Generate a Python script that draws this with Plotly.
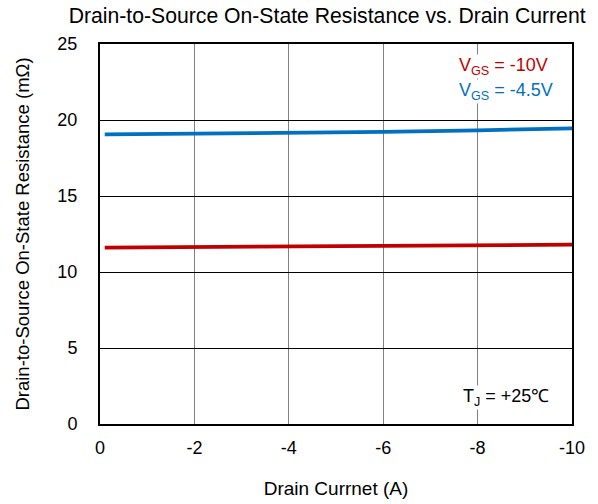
import plotly.graph_objects as go

current = [-0.1, -2, -4, -6, -8, -10]
rds_10v = [11.6, 11.63, 11.67, 11.71, 11.76, 11.8]
rds_45v = [19.05, 19.1, 19.15, 19.22, 19.32, 19.45]
x_ticks = [0, -2, -4, -6, -8, -10]
y_ticks = [0, 5, 10, 15, 20, 25]

RED = "#C00000"
BLUE = "#0070C0"
FONT = "Liberation Sans, Arial, sans-serif"

fig = go.Figure()
fig.add_trace(go.Scatter(x=current, y=rds_45v, mode="lines",
                         line=dict(color=BLUE, width=3.8), showlegend=False))
fig.add_trace(go.Scatter(x=current, y=rds_10v, mode="lines",
                         line=dict(color=RED, width=3.8), showlegend=False))

fig.update_layout(
    width=598, height=504,
    margin=dict(l=100, r=26, t=44, b=80),
    paper_bgcolor="white", plot_bgcolor="white",
    font=dict(family=FONT, size=18, color="black"),
    title=dict(text="Drain-to-Source On-State Resistance vs. Drain Current",
               x=0.547, xanchor="center", y=0.970, yanchor="middle",
               font=dict(size=21.2, family=FONT, color="black"), automargin=False),
    showlegend=False,
)
fig.update_xaxes(
    range=[0, -10], tickvals=x_ticks, ticktext=[str(v) for v in x_ticks],
    showgrid=True, gridcolor="#808080", gridwidth=1,
    showline=True, linecolor="black", linewidth=2, mirror=True,
    zeroline=False, ticks="", ticklen=0, ticklabelstandoff=6,
    tickfont=dict(size=18), automargin=False,
    title=dict(text="Drain Currnet (A)", font=dict(size=19), standoff=25),
)
fig.update_yaxes(
    range=[0, 25], tickvals=y_ticks,
    showgrid=True, gridcolor="black", gridwidth=1,
    showline=True, linecolor="black", linewidth=2, mirror=True,
    zeroline=False, ticks="", ticklen=0, ticklabelstandoff=17,
    tickfont=dict(size=18), automargin=False,
    title=dict(text="Drain-to-Source On-State Resistance (mΩ)", font=dict(size=18.5), standoff=23),
)

fig.add_annotation(xref="paper", yref="paper", x=0.758, y=0.942, xanchor="left", yanchor="middle",
                   text="V<sub>GS</sub> = -10V", showarrow=False, bgcolor="white",
                   font=dict(color=RED, size=18), borderpad=0)
fig.add_annotation(xref="paper", yref="paper", x=0.758, y=0.874, xanchor="left", yanchor="middle",
                   text="V<sub>GS</sub> = -4.5V", showarrow=False, bgcolor="white",
                   font=dict(color=BLUE, size=18), borderpad=0)
fig.add_annotation(xref="paper", yref="paper", x=0.767, y=0.071, xanchor="left", yanchor="middle",
                   text="T<sub>J</sub> = +25℃", showarrow=False, bgcolor="white",
                   font=dict(color="black", size=18), borderpad=0)

fig.write_html("out.html")
